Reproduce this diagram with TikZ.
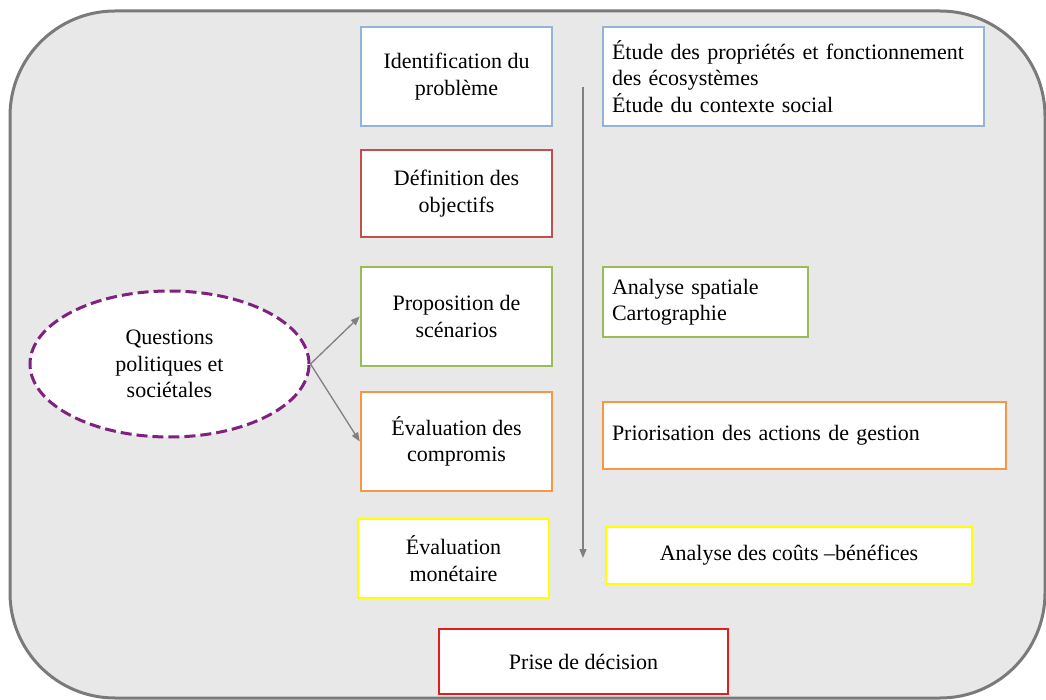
\documentclass[tikz,border=0pt]{standalone}
\usepackage{fontspec}
\setmainfont{Liberation Serif}
\usetikzlibrary{arrows.meta,shapes.geometric}
\definecolor{frame}{HTML}{7A7A7A}
\definecolor{panel}{HTML}{E8E8E8}
\definecolor{cblue}{HTML}{95B3D7}
\definecolor{cdred}{HTML}{C0504D}
\definecolor{cgreen}{HTML}{9BBB59}
\definecolor{corange}{HTML}{F79646}
\definecolor{cyellow}{HTML}{FFFF00}
\definecolor{cred}{HTML}{E01E1E}
\definecolor{cpurple}{HTML}{80207F}
\definecolor{carrow}{HTML}{808080}
\tikzset{
  box/.style={draw, rectangle, fill=white, line width=2.5pt, inner sep=9pt,
    align=center, font=\fontsize{22}{26.5}\selectfont},
  lbox/.style={box, align=left},
  conn/.style={draw=carrow, line width=1.3pt, -{Triangle[length=9pt,width=7pt]}},
}
\begin{document}
\begin{tikzpicture}[x=1pt,y=-1pt]
\useasboundingbox (0,0) rectangle (1046,700);
\begin{scope}
\clip (0,0) rectangle (1046,700);
\draw[draw=frame, fill=panel, line width=3pt, rounded corners=105pt] (10,11) rectangle (1045,698);
\end{scope}

% left column
\node[box, draw=cblue, minimum width=191pt, minimum height=99pt] (ident) at (456.5,76.5) {Identification du\\problème};
\node[box, draw=cdred, minimum width=191pt, minimum height=87pt] (defn) at (456.5,193.5) {Définition des\\objectifs};
\node[box, draw=cgreen, minimum width=191pt, minimum height=99pt] (prop) at (456.5,316.5) {Proposition de\\scénarios};
\node[box, draw=corange, minimum width=191pt, minimum height=99pt] (comp) at (456.5,441.5) {Évaluation des\\compromis};
\node[box, draw=cyellow, minimum width=191pt, minimum height=79pt] (mone) at (453.5,558.5) {Évaluation\\monétaire};
\node[box, draw=cred, minimum width=289pt, minimum height=65pt] (prise) at (583.5,661.5) {Prise de décision};

% right column
\node[lbox, draw=cblue, text width=363pt, minimum height=99pt] (etude) at (793.5,76.5) {Étude des propriétés et fonctionnement\\des écosystèmes\\Étude du contexte social};
\node[lbox, draw=cgreen, text width=187pt, minimum height=70pt] (spat) at (705.5,302) {Analyse spatiale\\Cartographie};
\node[lbox, draw=corange, text width=385pt, minimum height=67pt] (prio) at (804.5,435.5) {Priorisation des actions de gestion};
\node[box, draw=cyellow, minimum width=366pt, minimum height=57pt] (couts) at (789,555.5) {Analyse des coûts –bénéfices};

% ellipse
\node[draw=cpurple, dash pattern=on 11pt off 5pt, line width=3pt, fill=white, ellipse,
  minimum width=279pt, minimum height=146pt, inner sep=0pt, align=center,
  font=\fontsize{22}{26.5}\selectfont] (quest) at (169.5,364) {Questions\\politiques et\\sociétales};

% connectors
\draw[conn] (quest.east) -- (prop.west);
\draw[conn] (quest.east) -- (comp.west);
\coordinate (vtop) at (583,87);
\coordinate (vbot) at (583,558);
\draw[conn] (vtop) -- (vbot);
\end{tikzpicture}
\end{document}
